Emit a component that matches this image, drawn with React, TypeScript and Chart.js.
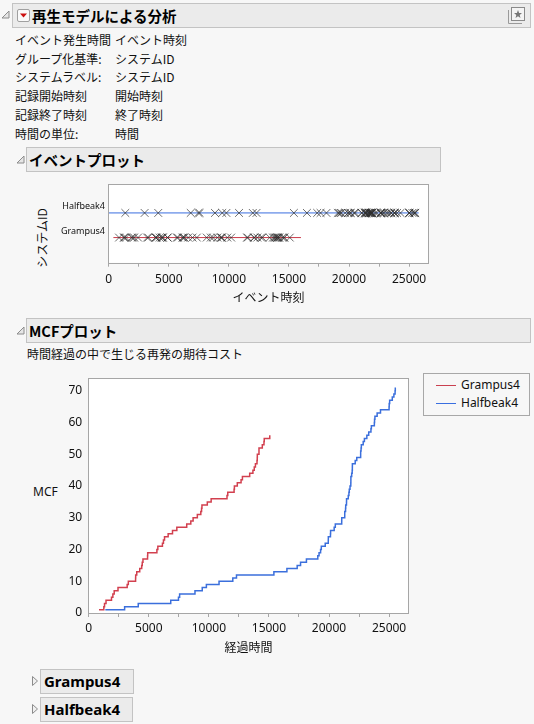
import React, { useEffect, useRef } from "react";
import { Chart, registerables } from "chart.js";

Chart.register(...registerables);

// ---------- data ----------
const systems = ["Grampus4", "Halfbeak4"];

const grampusTimes = [
  860, 1258, 1317, 1442, 1897, 2011, 2122, 2439, 3203, 3298, 3902, 3910, 4000, 4247, 4411, 4456,
  4517, 4899, 4910, 5676, 5755, 6137, 6221, 6311, 6613, 6975, 7335, 8158, 8498, 8690, 9042, 9330,
  9394, 9426, 9872, 10191, 11511, 11575, 12100, 12126, 12368, 12681, 12795, 13399, 13668, 13780,
  13877, 14007, 14028, 14035, 14173, 14173, 14449, 14587, 14610, 15070,
];
const grampusMcf = [
  1, 2, 3, 4, 5, 6, 7, 8, 9, 10, 11, 12, 13, 14, 15, 16, 17, 18, 19, 20, 21, 22, 23, 24, 25, 26, 27,
  28, 29, 30, 31, 32, 33, 34, 35, 36, 37, 38, 39, 40, 41, 42, 43, 44, 45, 46, 47, 48, 49, 50, 51,
  52, 53, 54, 55, 56,
];

const halfbeakTimes = [
  1382, 2990, 4124, 6827, 7472, 7567, 8845, 9450, 9794, 10848, 11993, 12300, 15413, 16497, 17352,
  17632, 18122, 19067, 19172, 19299, 19360, 19686, 19940, 19944, 20121, 20132, 20431, 20525, 21057,
  21061, 21309, 21310, 21378, 21391, 21456, 21461, 21603, 21658, 21688, 21750, 21815, 21820, 21822,
  21888, 21930, 21943, 21946, 22181, 22311, 22634, 22635, 22669, 22691, 22846, 22947, 23149, 23305,
  23491, 23526, 23774, 23791, 23822, 24006, 24286, 25000, 25010, 25048, 25268, 25400, 25500, 25518,
];
const halfbeakMcf = [
  1, 2, 3, 4, 5, 6, 7, 8, 9, 10, 11, 12, 13, 14, 15, 16, 17, 18, 19, 20, 21, 22, 23, 24, 25, 26, 27,
  28, 29, 30, 31, 32, 33, 34, 35, 36, 37, 38, 39, 40, 41, 42, 43, 44, 45, 46, 47, 48, 49, 50, 51,
  52, 53, 54, 55, 56, 57, 58, 59, 60, 61, 62, 63, 64, 65, 66, 67, 68, 69, 70, 71,
];

// observation windows (start, end) for the event plot
const grampusWindow = [390, 16000];
const halfbeakWindow = [0, 25800];

// axis ticks
const xTickValues = [0, 2500, 5000, 7500, 10000, 12500, 15000, 17500, 20000, 22500, 25000];
const xTickLabels = ["0", "", "5000", "", "10000", "", "15000", "", "20000", "", "25000"];
const mcfTickValues = [0, 10, 20, 30, 40, 50, 60, 70];
const mcfTickLabels = ["0", "10", "20", "30", "40", "50", "60", "70"];

const infoLabels = ["イベント発生時間", "グループ化基準:", "システムラベル:", "記録開始時刻", "記録終了時刻", "時間の単位:"];
const infoValues = ["イベント時刻", "システムID", "システムID", "開始時刻", "終了時刻", "時間"];

// ---------- style ----------
const RED = "#d2404f";
const BLUE = "#3b6fdc";
const FRAME = "#a6a6a6";
const LATIN = '"Noto Sans", "Noto Sans CJK JP", sans-serif';
const JP = '"Noto Sans CJK JP", "Noto Sans", sans-serif';
const BG = "#f7f7f7";

const framePlugin = {
  id: "frameBox",
  beforeDraw(chart: any) {
    const { ctx, chartArea } = chart;
    ctx.save();
    ctx.fillStyle = "#ffffff";
    ctx.fillRect(chartArea.left, chartArea.top, chartArea.right - chartArea.left, chartArea.bottom - chartArea.top);
    ctx.restore();
  },
  afterDraw(chart: any) {
    const { ctx, chartArea } = chart;
    ctx.save();
    ctx.strokeStyle = FRAME;
    ctx.lineWidth = 1;
    const l = Math.round(chartArea.left) - 0.5;
    const t = Math.round(chartArea.top) - 0.5;
    const r = Math.round(chartArea.right) + 0.5;
    const b = Math.round(chartArea.bottom) + 0.5;
    ctx.strokeRect(l, t, r - l, b - t);
    ctx.restore();
  },
};

function OpenTri({ left, top }: { left: number; top: number }) {
  return (
    <svg style={{ position: "absolute", left, top }} width={9} height={9}>
      <polygon points="8,1 8,8 1,8" fill="#e6e6e6" stroke="#8c8c8c" strokeWidth={1} />
    </svg>
  );
}
function ClosedTri({ left, top }: { left: number; top: number }) {
  return (
    <svg style={{ position: "absolute", left, top }} width={8} height={12}>
      <polygon points="1.5,1.5 6.5,6 1.5,10.5" fill="#f0f0f0" stroke="#8c8c8c" strokeWidth={1} />
    </svg>
  );
}

function Header({ left, top, width, text, fs = 14.5 }: any) {
  return (
    <div
      style={{
        position: "absolute",
        left,
        top,
        width,
        height: 25,
        boxSizing: "border-box",
        background: "#ebebeb",
        border: "1px solid #c3c3c3",
        fontFamily: JP,
        fontWeight: 700,
        fontSize: fs,
        lineHeight: "23px",
        paddingLeft: 2,
        color: "#000",
        whiteSpace: "nowrap",
      }}
    >
      {text}
    </div>
  );
}

const xScale = (title: string, labelPad: number, titlePad: number, height: number) => ({
  type: "linear",
  min: 0,
  max: 26600,
  afterBuildTicks: (s: any) => {
    s.ticks = xTickValues.map((value) => ({ value }));
  },
  ticks: {
    autoSkip: false,
    maxRotation: 0,
    minRotation: 0,
    callback: (_v: any, i: number) => xTickLabels[i],
    font: { family: LATIN, size: 12 },
    color: "#111",
    padding: labelPad,
  },
  grid: { drawOnChartArea: false, drawTicks: true, tickLength: 4, color: FRAME },
  border: { display: false },
  title: {
    display: true,
    text: title,
    font: { family: JP, size: 12 },
    color: "#111",
    padding: { top: 0, bottom: titlePad },
  },
  afterFit: (s: any) => {
    s.height = height;
  },
});

export default function App() {
  const evRef = useRef<HTMLCanvasElement>(null);
  const mcfRef = useRef<HTMLCanvasElement>(null);

  useEffect(() => {
    const ev = new Chart(evRef.current as HTMLCanvasElement, {
      type: "scatter",
      data: {
        datasets: [
          {
            type: "line",
            data: grampusWindow.map((x) => ({ x, y: 1 })),
            borderColor: "#c93b4a",
            borderWidth: 1,
            pointRadius: 0,
            order: 2,
          },
          {
            type: "line",
            data: halfbeakWindow.map((x) => ({ x, y: 2 })),
            borderColor: "#3a6ee0",
            borderWidth: 1,
            pointRadius: 0,
            order: 2,
          },
          {
            type: "scatter",
            data: grampusTimes.map((x) => ({ x, y: 1 })),
            pointStyle: "crossRot",
            pointRadius: 5.5,
            borderColor: "rgba(45,45,45,0.7)",
            backgroundColor: "rgba(0,0,0,0)",
            borderWidth: 1,
            order: 1,
          },
          {
            type: "scatter",
            data: halfbeakTimes.map((x) => ({ x, y: 2 })),
            pointStyle: "crossRot",
            pointRadius: 5.5,
            borderColor: "rgba(45,45,45,0.7)",
            backgroundColor: "rgba(0,0,0,0)",
            borderWidth: 1,
            order: 1,
          },
        ] as any,
      },
      options: {
        animation: false,
        responsive: true,
        maintainAspectRatio: false,
        layout: { padding: { top: 8, right: 7.7, left: 0, bottom: 0 } },
        plugins: { legend: { display: false }, tooltip: { enabled: false } },
        scales: {
          x: xScale("イベント時刻", 5.4, 5.5, 47.3),
          y: {
            type: "linear",
            min: -0.02,
            max: 3.13,
            afterBuildTicks: (s: any) => {
              s.ticks = systems.map((_, i) => ({ value: i + 1 }));
            },
            ticks: {
              callback: (_v: any, i: number) => systems[i],
              font: { family: LATIN, size: 9 },
              color: "#111",
              padding: 3.7,
              labelOffset: -6,
            },
            grid: { display: false, drawTicks: false },
            border: { display: false },
            afterFit: (s: any) => {
              s.width = 58.7;
            },
          },
        },
      } as any,
      plugins: [framePlugin],
    });

    const mcf = new Chart(mcfRef.current as HTMLCanvasElement, {
      type: "line",
      data: {
        datasets: [
          {
            label: systems[0],
            data: grampusTimes.map((x, i) => ({ x, y: grampusMcf[i] })),
            stepped: "before",
            borderColor: RED,
            borderWidth: 1.5,
            pointRadius: 0,
            fill: false,
          },
          {
            label: systems[1],
            data: halfbeakTimes.map((x, i) => ({ x, y: halfbeakMcf[i] })),
            stepped: "before",
            borderColor: BLUE,
            borderWidth: 1.5,
            pointRadius: 0,
            fill: false,
          },
        ] as any,
      },
      options: {
        animation: false,
        responsive: true,
        maintainAspectRatio: false,
        layout: { padding: { top: 8.3, right: 7.7, left: 0, bottom: 0 } },
        plugins: { legend: { display: false }, tooltip: { enabled: false } },
        scales: {
          x: xScale("経過時間", 4.1, 7.5, 49),
          y: {
            type: "linear",
            min: 0,
            max: 73.8,
            afterBuildTicks: (s: any) => {
              s.ticks = mcfTickValues.map((value) => ({ value }));
            },
            ticks: {
              callback: (_v: any, i: number) => mcfTickLabels[i],
              font: { family: LATIN, size: 12 },
              color: "#111",
              padding: 6.5,
            },
            grid: { display: false, drawTicks: false },
            border: { display: false },
            afterFit: (s: any) => {
              s.width = 68.7;
            },
          },
        },
      } as any,
      plugins: [framePlugin],
    });

    return () => {
      ev.destroy();
      mcf.destroy();
    };
  }, []);

  const rowCenters = [40, 58.7, 77.3, 96.3, 115, 134];

  return (
    <div
      style={{
        position: "absolute",
        left: 0,
        top: 0,
        width: 534,
        height: 724,
        background: BG,
        overflow: "hidden",
        fontFamily: JP,
        color: "#111",
      }}
    >
      {/* top outline header */}
      <OpenTri left={1} top={10} />
      <Header left={12} top={3} width={519} text="" />
      <div
        style={{
          position: "absolute",
          left: 17,
          top: 9,
          width: 13,
          height: 13,
          boxSizing: "border-box",
          border: "1px solid #a0a0a0",
          borderRadius: 2,
          background: "#fafafa",
        }}
      >
        <svg width={11} height={11} style={{ position: "absolute", left: 0, top: 0 }}>
          <polygon points="2,3.5 9,3.5 5.5,7.5" fill="#cc1010" />
        </svg>
      </div>
      <div
        style={{
          position: "absolute",
          left: 32,
          top: 3,
          height: 25,
          lineHeight: "25px",
          fontFamily: JP,
          fontWeight: 700,
          fontSize: 14.5,
          whiteSpace: "nowrap",
          color: "#000",
        }}
      >
        再生モデルによる分析
      </div>
      <svg style={{ position: "absolute", left: 507, top: 6 }} width={20} height={20}>
        <polyline points="1.5,4 1.5,17.5 15,17.5" fill="none" stroke="#9a9a9a" strokeWidth={1} />
        <rect x={4.5} y={1.5} width={13} height={13} fill="#f4f4f4" stroke="#8a8a8a" strokeWidth={1} />
        <polygon
          points="11,4 12.1,7 15,7.1 12.7,9 13.5,12 11,10.3 8.5,12 9.3,9 7,7.1 9.9,7"
          fill="#777"
        />
      </svg>

      {/* info rows */}
      {infoLabels.map((lab, i) => (
        <React.Fragment key={lab}>
          <div
            style={{
              position: "absolute",
              left: 15,
              top: rowCenters[i] - 9,
              height: 18,
              lineHeight: "18px",
              fontSize: 12,
              whiteSpace: "nowrap",
            }}
          >
            {lab}
          </div>
          <div
            style={{
              position: "absolute",
              left: 115,
              top: rowCenters[i] - 9,
              height: 18,
              lineHeight: "18px",
              fontSize: 12,
              whiteSpace: "nowrap",
            }}
          >
            {infoValues[i]}
          </div>
        </React.Fragment>
      ))}

      {/* event plot */}
      <OpenTri left={16} top={155} />
      <Header left={26} top={147} width={415} text="イベントプロット" />
      <div
        style={{
          position: "absolute",
          left: 42,
          top: 238,
          transform: "translate(-50%, -50%) rotate(-90deg)",
          fontSize: 12,
          whiteSpace: "nowrap",
          lineHeight: "14px",
        }}
      >
        システムID
      </div>
      <div style={{ position: "absolute", left: 50, top: 176, width: 386, height: 134 }}>
        <canvas ref={evRef} />
      </div>

      {/* MCF plot */}
      <OpenTri left={16} top={326} />
      <Header left={26} top={318} width={505} text="MCFプロット" />
      <div
        style={{
          position: "absolute",
          left: 27,
          top: 345,
          height: 18,
          lineHeight: "18px",
          fontSize: 12,
          whiteSpace: "nowrap",
        }}
      >
        時間経過の中で生じる再発の期待コスト
      </div>
      <div
        style={{
          position: "absolute",
          left: 33,
          top: 483,
          height: 18,
          lineHeight: "18px",
          fontSize: 12,
          fontFamily: LATIN,
          whiteSpace: "nowrap",
        }}
      >
        MCF
      </div>
      <div style={{ position: "absolute", left: 20, top: 365, width: 396, height: 297 }}>
        <canvas ref={mcfRef} />
      </div>

      {/* legend */}
      <div
        style={{
          position: "absolute",
          left: 423,
          top: 373,
          width: 107,
          height: 43,
          boxSizing: "border-box",
          border: "1px solid #a8a8a8",
        }}
      >
        {systems.map((s, i) => (
          <React.Fragment key={s}>
            <div
              style={{
                position: "absolute",
                left: 12,
                top: 11 + i * 18.3,
                width: 20,
                height: 1,
                background: i === 0 ? "#c94050" : "#3a6fe0",
              }}
            />
            <div
              style={{
                position: "absolute",
                left: 37,
                top: 2 + i * 18.3,
                height: 18,
                lineHeight: "18px",
                fontSize: 12,
                fontFamily: LATIN,
                whiteSpace: "nowrap",
              }}
            >
              {s}
            </div>
          </React.Fragment>
        ))}
      </div>

      {/* collapsed group outlines */}
      <ClosedTri left={31} top={675} />
      <div
        style={{
          position: "absolute",
          left: 40,
          top: 669,
          width: 94,
          height: 25,
          boxSizing: "border-box",
          background: "#ebebeb",
          border: "1px solid #c3c3c3",
          fontFamily: LATIN,
          fontWeight: 700,
          fontSize: 15,
          lineHeight: "23px",
          paddingLeft: 3,
          color: "#000",
        }}
      >
        {systems[0]}
      </div>
      <ClosedTri left={31} top={703} />
      <div
        style={{
          position: "absolute",
          left: 40,
          top: 697,
          width: 93,
          height: 25,
          boxSizing: "border-box",
          background: "#ebebeb",
          border: "1px solid #c3c3c3",
          fontFamily: LATIN,
          fontWeight: 700,
          fontSize: 15,
          lineHeight: "23px",
          paddingLeft: 3,
          color: "#000",
        }}
      >
        {systems[1]}
      </div>
    </div>
  );
}
